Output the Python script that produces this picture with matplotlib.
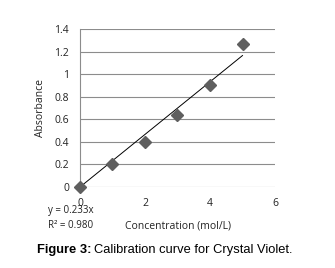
import matplotlib
matplotlib.use("Agg")
import matplotlib.pyplot as plt
import numpy as np

conc = [0, 1, 2, 3, 4, 5]
absorbance = [0.0, 0.2, 0.4, 0.64, 0.9, 1.27]
slope = 0.233
r2 = 0.980
x_ticks = [0, 2, 4, 6]
y_ticks = [0, 0.2, 0.4, 0.6, 0.8, 1.0, 1.2, 1.4]
y_tick_labels = ["0", "0.2", "0.4", "0.6", "0.8", "1", "1.2", "1.4"]

plt.rcParams['font.family'] = ['Open Sans', 'DejaVu Sans']

fig = plt.figure(figsize=(3.35, 2.68), dpi=100)
ax = fig.add_axes([0.2388, 0.3022, 0.5821, 0.5896])

ax.set_xlim(0, 6)
ax.set_ylim(0, 1.4)
ax.set_yticks(y_ticks)
ax.set_yticklabels(y_tick_labels)
ax.set_xticks(x_ticks)
ax.yaxis.grid(True, color='#8c8c8c', linewidth=0.8)
ax.set_axisbelow(True)
for s in ['top', 'right', 'bottom']:
    ax.spines[s].set_visible(False)
ax.spines['left'].set_color('#8c8c8c')
ax.spines['left'].set_linewidth(0.8)
ax.tick_params(axis='both', length=0, labelsize=7.5, colors='#222222')
ax.tick_params(axis='y', pad=8)
ax.tick_params(axis='x', pad=8)

xf = np.array([conc[0], conc[-1]])
ax.plot(xf, slope * xf, color='black', linewidth=0.7, zorder=2)
ax.plot(conc, absorbance, linestyle='none', marker='D', markersize=6,
        color='#5f5f5f', zorder=3, clip_on=False)

ax.set_ylabel("Absorbance", fontsize=7.5, labelpad=6, color='#222222')
fig.text(0.531, 0.157, "Concentration (mol/L)", fontsize=7.5, ha='center', va='center', color='#222222')
fig.text(0.143, 0.213, f"y = {slope}x", fontsize=7, ha='left', va='center', color='#222222')
fig.text(0.143, 0.157, f"R² = {r2:.3f}", fontsize=7, ha='left', va='center', color='#222222')

cap_family = ['Liberation Sans', 'DejaVu Sans']
t1 = fig.text(0.11, 0.068, "Figure 3:", fontsize=9.3, fontweight='bold', ha='left', va='center',
              family=cap_family)
fig.canvas.draw()
bb = t1.get_window_extent(renderer=fig.canvas.get_renderer())
x_next = bb.x1 / fig.bbox.width + 0.008
fig.text(x_next, 0.068, "Calibration curve for Crystal Violet.", fontsize=9.3, ha='left', va='center',
         family=cap_family)

fig.savefig("out.png", dpi=100)
